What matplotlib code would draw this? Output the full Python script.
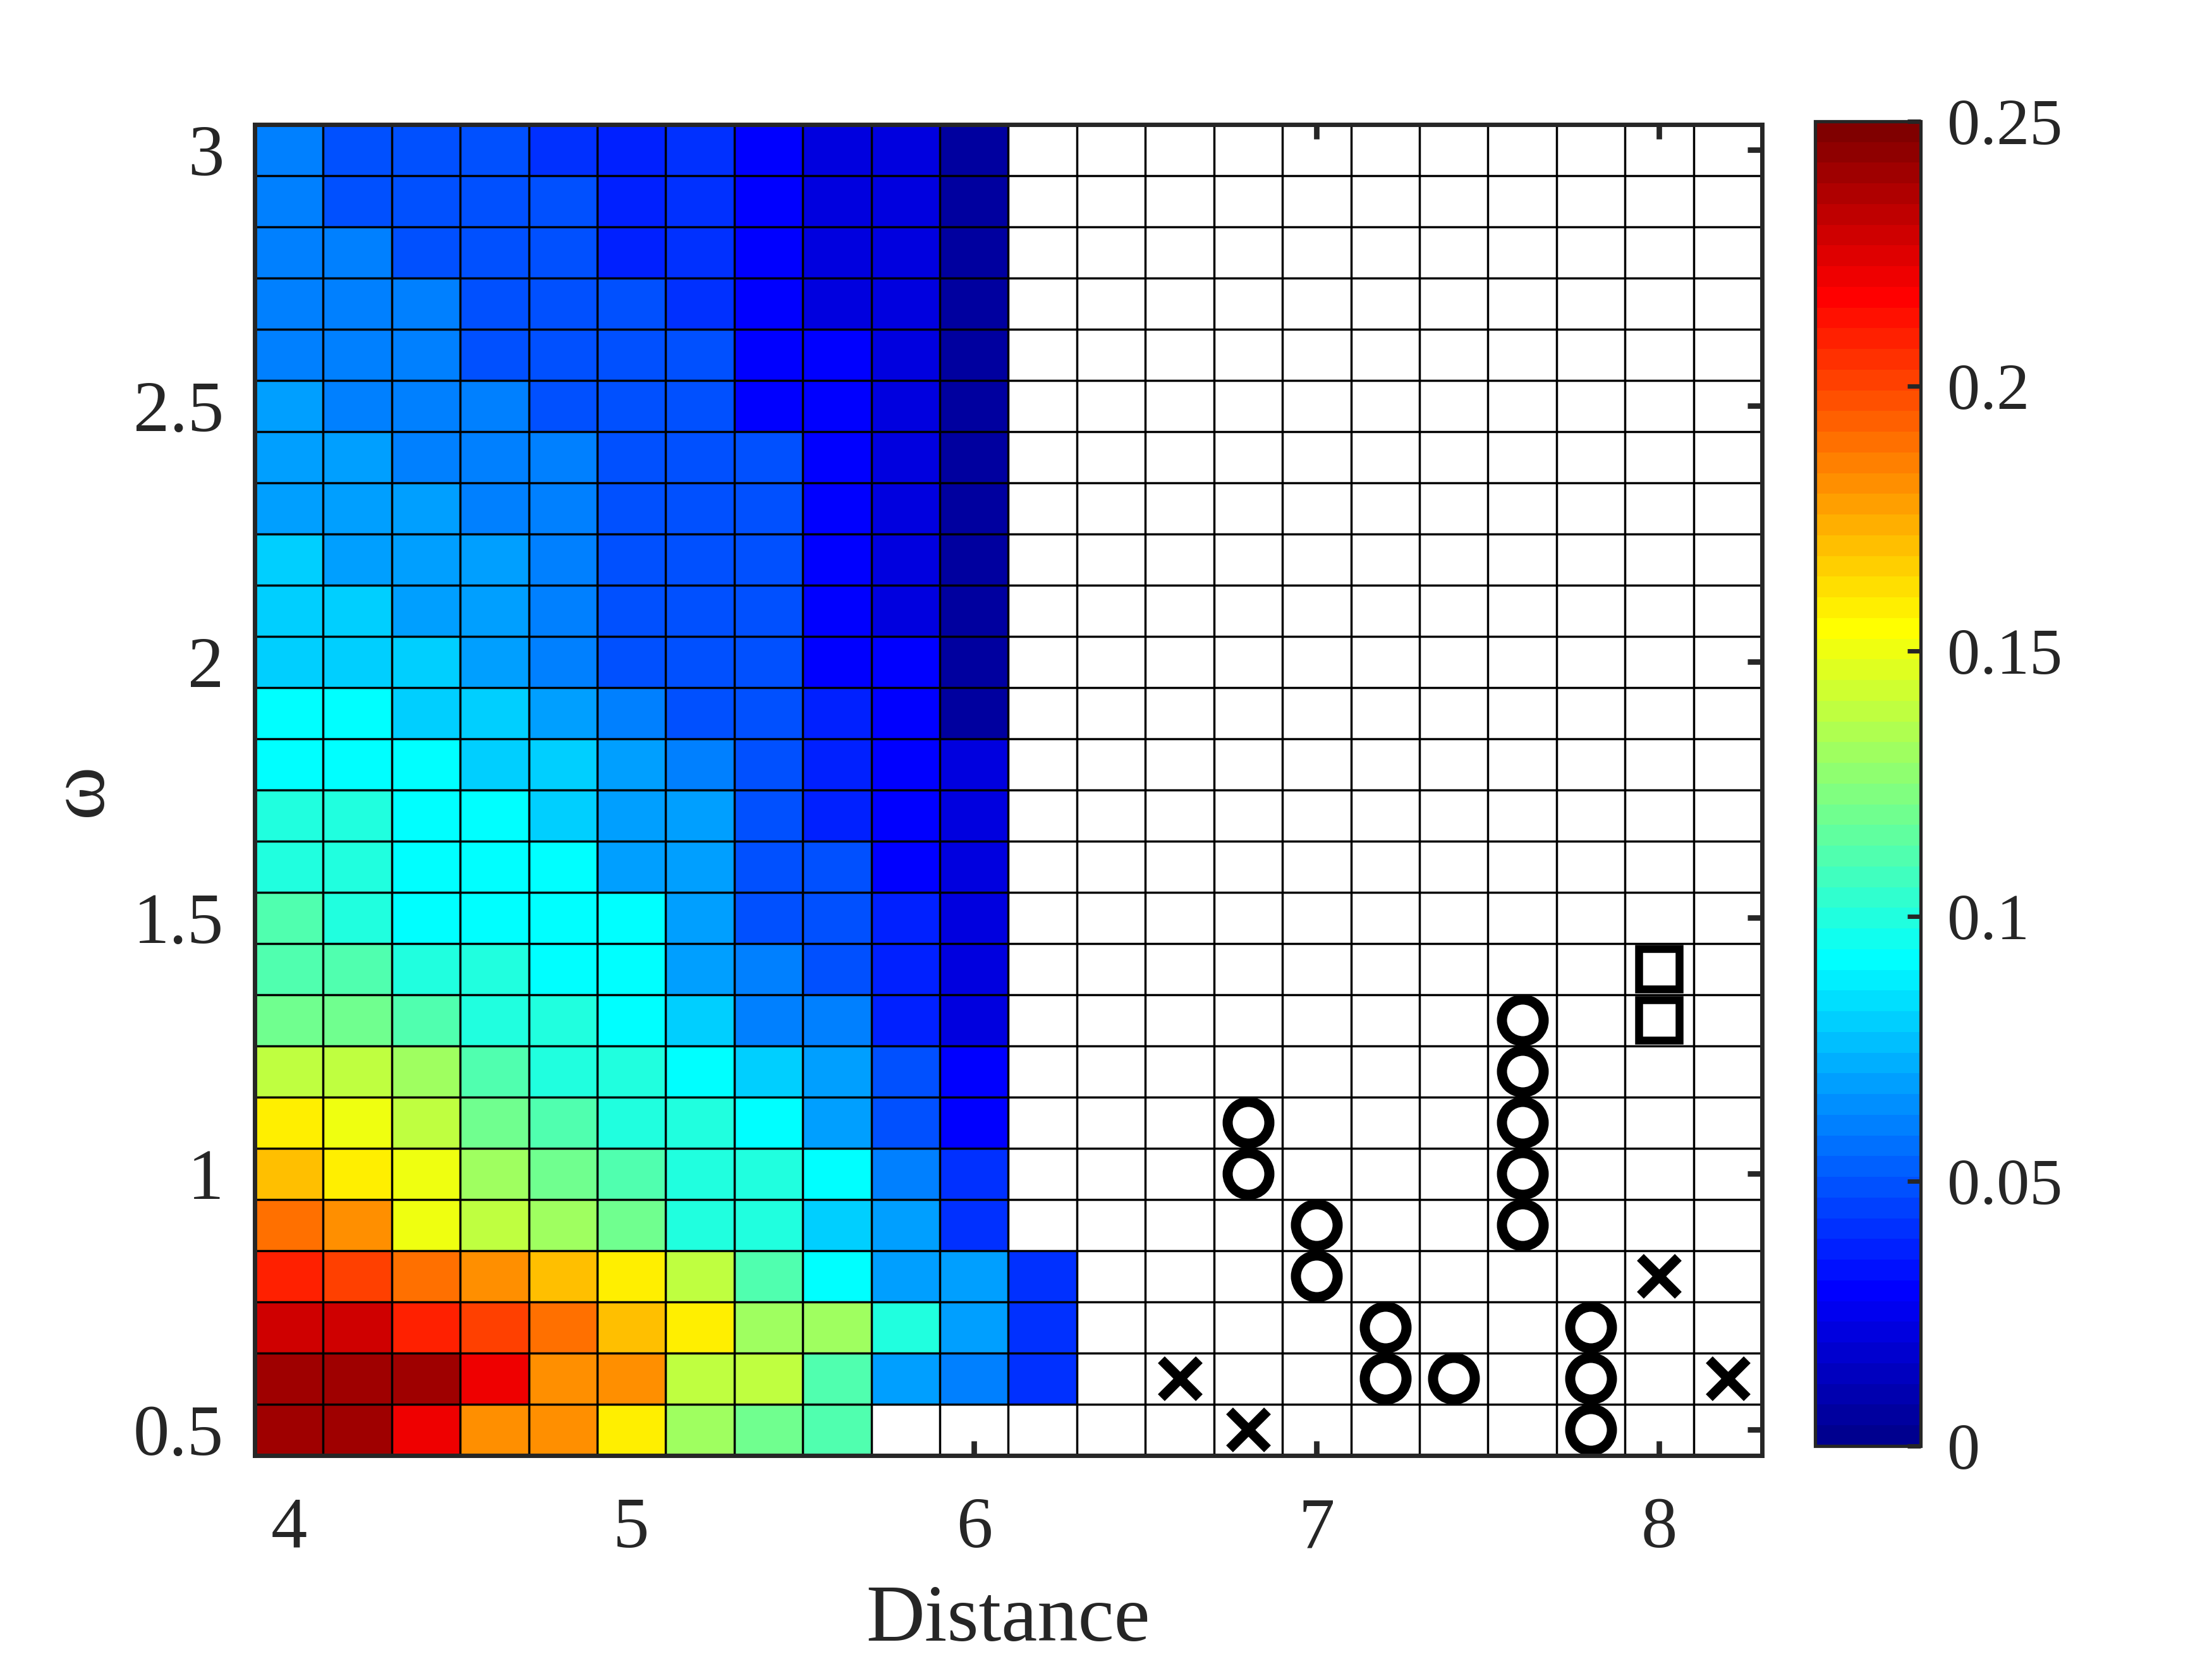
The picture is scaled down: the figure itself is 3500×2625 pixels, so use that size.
import numpy as np
import matplotlib
matplotlib.use("Agg")
import matplotlib.pyplot as plt
from matplotlib.colors import ListedColormap, Normalize
from matplotlib.ticker import FormatStrFormatter

plt.rcParams['font.family'] = ['Liberation Serif', 'DejaVu Serif']

# ---------------- data ----------------
distance = [4.0, 4.2, 4.4, 4.6, 4.8, 5.0, 5.2, 5.4, 5.6, 5.8, 6.0,
            6.2, 6.4, 6.6, 6.8, 7.0, 7.2, 7.4, 7.6, 7.8, 8.0, 8.2]
omega = [0.5, 0.6, 0.7, 0.8, 0.9, 1.0, 1.1, 1.2, 1.3, 1.4, 1.5, 1.6, 1.7,
         1.8, 1.9, 2.0, 2.1, 2.2, 2.3, 2.4, 2.5, 2.6, 2.7, 2.8, 2.9, 3.0]

# values per omega row (from omega = 3.0 down to 0.5), columns start at distance 4.0
row_30 = [0.060, 0.049, 0.049, 0.049, 0.041, 0.037, 0.041, 0.029, 0.021, 0.021, 0.005]
row_29 = [0.060, 0.049, 0.049, 0.049, 0.049, 0.037, 0.041, 0.029, 0.021, 0.021, 0.005]
row_28 = [0.060, 0.060, 0.049, 0.049, 0.049, 0.037, 0.041, 0.029, 0.021, 0.021, 0.005]
row_27 = [0.060, 0.060, 0.060, 0.049, 0.049, 0.049, 0.041, 0.029, 0.021, 0.021, 0.005]
row_26 = [0.060, 0.060, 0.060, 0.049, 0.049, 0.049, 0.049, 0.029, 0.029, 0.021, 0.005]
row_25 = [0.068, 0.060, 0.060, 0.060, 0.049, 0.049, 0.049, 0.029, 0.029, 0.021, 0.005]
row_24 = [0.068, 0.068, 0.060, 0.060, 0.060, 0.049, 0.049, 0.049, 0.029, 0.021, 0.005]
row_23 = [0.068, 0.068, 0.068, 0.060, 0.060, 0.048, 0.049, 0.049, 0.029, 0.021, 0.005]
row_22 = [0.080, 0.068, 0.068, 0.068, 0.060, 0.048, 0.049, 0.049, 0.029, 0.021, 0.005]
row_21 = [0.080, 0.080, 0.068, 0.068, 0.060, 0.048, 0.049, 0.049, 0.029, 0.021, 0.005]
row_20 = [0.080, 0.080, 0.080, 0.068, 0.060, 0.048, 0.048, 0.049, 0.029, 0.029, 0.005]
row_19 = [0.092, 0.092, 0.080, 0.080, 0.068, 0.060, 0.048, 0.049, 0.039, 0.029, 0.005]
row_18 = [0.092, 0.092, 0.092, 0.080, 0.080, 0.068, 0.060, 0.049, 0.039, 0.029, 0.020]
row_17 = [0.099, 0.099, 0.092, 0.092, 0.080, 0.068, 0.068, 0.049, 0.039, 0.029, 0.020]
row_16 = [0.099, 0.099, 0.092, 0.092, 0.092, 0.068, 0.068, 0.049, 0.049, 0.029, 0.020]
row_15 = [0.111, 0.099, 0.092, 0.092, 0.092, 0.092, 0.068, 0.049, 0.049, 0.039, 0.020]
row_14 = [0.111, 0.111, 0.099, 0.099, 0.092, 0.092, 0.068, 0.060, 0.049, 0.039, 0.020]
row_13 = [0.119, 0.119, 0.111, 0.099, 0.099, 0.092, 0.080, 0.060, 0.060, 0.039, 0.020]
row_12 = [0.139, 0.139, 0.131, 0.111, 0.099, 0.099, 0.092, 0.080, 0.068, 0.049, 0.029]
row_11 = [0.158, 0.150, 0.139, 0.119, 0.111, 0.099, 0.099, 0.092, 0.068, 0.049, 0.029]
row_10 = [0.170, 0.158, 0.150, 0.131, 0.119, 0.111, 0.099, 0.099, 0.092, 0.060, 0.041]
row_09 = [0.189, 0.182, 0.150, 0.139, 0.131, 0.119, 0.099, 0.099, 0.080, 0.068, 0.041]
row_08 = [0.209, 0.201, 0.189, 0.182, 0.170, 0.158, 0.139, 0.111, 0.092, 0.068, 0.068, 0.041]
row_07 = [0.228, 0.228, 0.209, 0.201, 0.189, 0.170, 0.158, 0.131, 0.131, 0.099, 0.068, 0.041]
row_06 = [0.240, 0.240, 0.240, 0.221, 0.182, 0.182, 0.139, 0.139, 0.111, 0.068, 0.060, 0.041]
row_05 = [0.240, 0.240, 0.221, 0.182, 0.182, 0.158, 0.131, 0.119, 0.111]

rows_top_down = [row_30, row_29, row_28, row_27, row_26, row_25, row_24, row_23,
                 row_22, row_21, row_20, row_19, row_18, row_17, row_16, row_15,
                 row_14, row_13, row_12, row_11, row_10, row_09, row_08, row_07,
                 row_06, row_05]

# marker points
circle_x = [6.8, 6.8, 7.0, 7.0, 7.2, 7.2, 7.4, 7.6, 7.6, 7.6, 7.6, 7.6, 7.8, 7.8, 7.8]
circle_y = [1.0, 1.1, 0.8, 0.9, 0.6, 0.7, 0.6, 0.9, 1.0, 1.1, 1.2, 1.3, 0.5, 0.6, 0.7]
square_x = [8.0, 8.0]
square_y = [1.3, 1.4]
cross_x = [6.6, 6.8, 8.0, 8.2]
cross_y = [0.6, 0.5, 0.8, 0.6]

xticks = [4, 5, 6, 7, 8]
yticks = [0.5, 1, 1.5, 2, 2.5, 3]
cbar_ticks = [0, 0.05, 0.1, 0.15, 0.2, 0.25]
cbar_labels = ['0', '0.05', '0.1', '0.15', '0.2', '0.25']
vmin, vmax = 0.0, 0.25

# ---------------- build grid ----------------
Z = np.full((len(omega), len(distance)), np.nan)
for i, row in enumerate(rows_top_down[::-1]):
    Z[i, :len(row)] = row
Z = np.ma.masked_invalid(Z)

# MATLAB-style jet(64)
def matlab_jet(m=64):
    n = int(np.ceil(m / 4))
    u = np.concatenate([np.arange(1, n + 1) / n, np.ones(n - 1), np.arange(n, 0, -1) / n])
    g = int(np.ceil(n / 2)) - (1 if m % 4 == 1 else 0) + np.arange(1, len(u) + 1)
    r = g + n
    b = g - n
    J = np.zeros((m, 3))
    J[r[r <= m] - 1, 0] = u[r <= m]
    J[g[g <= m] - 1, 1] = u[g <= m]
    J[b[b >= 1] - 1, 2] = u[b >= 1]
    return J

cmap = ListedColormap(matlab_jet(64))
cmap.set_bad((1, 1, 1, 0))

TXT = '#262626'
fig = plt.figure(figsize=(14, 10.5), dpi=250)
ax = fig.add_axes([0.1151, 0.1227, 0.6815, 0.8023])
cax = fig.add_axes([0.8206, 0.1284, 0.0477, 0.7985])

x = np.array(distance)
y = np.array(omega)
mesh = ax.pcolormesh(x, y, Z, cmap=cmap, norm=Normalize(vmin, vmax),
                     shading='nearest', zorder=1)

def edges(c):
    d0 = c[1] - c[0]
    d1 = c[-1] - c[-2]
    return np.concatenate([[c[0] - d0 / 2], (c[:-1] + c[1:]) / 2, [c[-1] + d1 / 2]])

xe = edges(x)
ye = edges(y)
ax.vlines(xe, ye[0], ye[-1], colors='k', linewidth=1.0, zorder=2)
ax.hlines(ye, xe[0], xe[-1], colors='k', linewidth=1.0, zorder=2)

ax.plot(circle_x, circle_y, ls='none', marker='o', ms=19, mew=4.6,
        mfc='none', mec='k', zorder=4)
ax.plot(square_x, square_y, ls='none', marker='s', ms=18.4, mew=3.6,
        mfc='none', mec='k', zorder=4)
ax.plot(cross_x, cross_y, ls='none', marker='x', ms=17, mew=4.4,
        mec='k', zorder=4)

ax.set_xlim(xe[0], xe[-1])
ax.set_ylim(ye[0], ye[-1])
ax.set_axisbelow(True)
ax.set_xticks(xticks)
ax.set_yticks(yticks)
ax.xaxis.set_major_formatter(FormatStrFormatter('%g'))
ax.yaxis.set_major_formatter(FormatStrFormatter('%g'))
ax.tick_params(axis='both', which='major', direction='in', top=True, right=True,
               length=6.5, width=2.5, color=TXT, labelsize=33, labelcolor=TXT)
ax.tick_params(axis='x', pad=19)
ax.tick_params(axis='y', pad=14)
for s in ax.spines.values():
    s.set_linewidth(2.0)
    s.set_color(TXT)
    s.set_zorder(5)

ax.set_xlabel('Distance', fontsize=37, color=TXT, labelpad=10)
ax.set_ylabel('ω', fontsize=37, color=TXT, labelpad=7)

cb = fig.colorbar(mesh, cax=cax, ticks=cbar_ticks)
cb.ax.set_yticklabels(cbar_labels)
cb.outline.set_linewidth(1.5)
cb.outline.set_edgecolor(TXT)
cb.ax.tick_params(direction='in', length=6, width=2, color=TXT,
                  labelsize=30, labelcolor=TXT, pad=12)

fig.savefig('out.png', dpi=250, facecolor='white')
